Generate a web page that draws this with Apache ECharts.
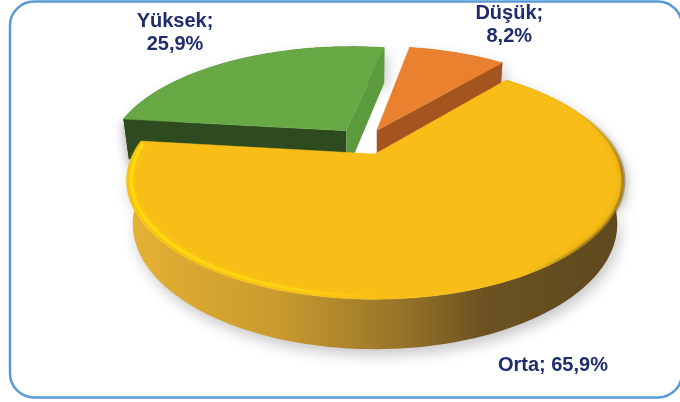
<!DOCTYPE html>
<html>
<head>
<meta charset="utf-8">
<script src="https://cdn.jsdelivr.net/npm/echarts@6/dist/echarts.min.js"></script>
<style>
  html, body { margin: 0; padding: 0; background: #fff; }
  #chart { width: 680px; height: 402px; }
</style>
</head>
<body>
<div id="chart"></div>
<script>
// risk düzeyi dağılımı (%)
const categories = ['Düşük', 'Orta', 'Yüksek'];
const values = [8.2, 65.9, 25.9];

// görünüm ayarları (Excel 3B pasta gibi)
const topColors = ['#E9812E', '#F8BD16', '#69A945'];
const startWallColors = ['#B8601F', '#7A5C20', '#2E4A1F'];
const endWallColors = ['#A3541F', '#7A5C20', '#5C9A3E'];
const explode = [{ d: 0.22, dir: 2 }, { d: 0, dir: 0 }, { d: 0.25, dir: 330 }];
const labelOffsets = [[52, -28], [64, 79], [-58, -28]];
const labelWrap = [true, false, true];

const view = { cx: 375, cy: 154, f: 951, D: 3.93, h: 0.2025, tilt: 27.7 * Math.PI / 180, start: 10 };
const rad = a => a * Math.PI / 180;

function project(x, y, z) {
  const s = Math.sin(view.tilt), c = Math.cos(view.tilt);
  const depth = view.D + y * c - z * s;
  const v = y * s + z * c;
  return [view.cx + view.f * x / depth, view.cy - view.f * v / depth];
}

const total = values.reduce((a, b) => a + b, 0);
let acc = view.start;
const slices = values.map((v, i) => {
  const a0 = acc;
  const a1 = acc + v / total * 360;
  acc = a1;
  const ox = explode[i].d * Math.sin(rad(explode[i].dir));
  const oy = explode[i].d * Math.cos(rad(explode[i].dir));
  const mid = (a0 + a1) / 2;
  return { a0, a1, ox, oy, mid, depth: oy + 0.5 * Math.cos(rad(mid)) };
});
// uzaktan yakına çizim sırası
const order = slices.map((s, i) => i).sort((a, b) => slices[b].depth - slices[a].depth);

const camPos = [0, -view.D * Math.cos(view.tilt), view.D * Math.sin(view.tilt)];

function wallVisible(s, phi, sign) {
  const t = [Math.cos(rad(phi)) * sign, -Math.sin(rad(phi)) * sign, 0];
  const p = [s.ox, s.oy, 0];
  return t[0] * (camPos[0] - p[0]) + t[1] * (camPos[1] - p[1]) + t[2] * (camPos[2] - p[2]) > 0;
}

function fmt(v) {
  return v.toFixed(1).replace('.', ',') + '%';
}

function renderItem(params, api) {
  const i = params.dataIndex;
  const s = slices[i];
  const h = view.h;
  const rim = (a, z, r) => project(s.ox + (r || 1) * Math.sin(rad(a)), s.oy + (r || 1) * Math.cos(rad(a)), z);
  const ctr = z => project(s.ox, s.oy, z);
  const n = Math.max(4, Math.ceil((s.a1 - s.a0) / 1.5));
  const topArc = [], botArc = [];
  for (let k = 0; k <= n; k++) {
    const a = s.a0 + (s.a1 - s.a0) * k / n;
    topArc.push(rim(a, 0));
    botArc.push(rim(a, -h));
  }
  const base = order.indexOf(i) * 10;
  const children = [];

  const wallFill = i === 1 ? {
    type: 'linear', x: 0, y: 0, x2: 1, y2: 0,
    colorStops: [
      { offset: 0, color: '#E4B233' },
      { offset: 0.3, color: '#C99A2E' },
      { offset: 0.55, color: '#98742A' },
      { offset: 0.72, color: '#6B5221' },
      { offset: 1, color: '#5E481E' }
    ]
  } : startWallColors[i];

  children.push({
    type: 'polygon',
    z2: base + 1,
    shape: { points: topArc.concat(botArc.slice().reverse()) },
    style: {
      fill: wallFill,
      shadowBlur: 14,
      shadowColor: 'rgba(0,0,0,0.22)',
      shadowOffsetX: 3,
      shadowOffsetY: 6
    }
  });

  if (wallVisible(s, s.a0, -1)) {
    children.push({
      type: 'polygon',
      z2: base + 2,
      shape: { points: [ctr(0), rim(s.a0, 0), rim(s.a0, -h), ctr(-h)] },
      style: { fill: startWallColors[i], shadowBlur: 10, shadowColor: 'rgba(0,0,0,0.18)', shadowOffsetX: -2, shadowOffsetY: 4 }
    });
  }
  if (wallVisible(s, s.a1, 1)) {
    children.push({
      type: 'polygon',
      z2: base + 2,
      shape: { points: [ctr(0), rim(s.a1, 0), rim(s.a1, -h), ctr(-h)] },
      style: { fill: endWallColors[i] }
    });
  }

  children.push({
    type: 'polygon',
    z2: base + 3,
    shape: { points: [ctr(0)].concat(topArc) },
    style: { fill: topColors[i], stroke: topColors[i], lineWidth: 0.5 }
  });

  if (i === 1) {
    // ön kenar parlaklığı
    const hl = [];
    for (let a = 178; a <= s.a1 - 1; a += 1.5) hl.push(rim(a, 0, 0.982));
    children.push({
      type: 'polyline',
      z2: base + 4,
      shape: { points: hl },
      style: {
        fill: null,
        lineWidth: 3,
        shadowBlur: 5,
        shadowColor: 'rgba(255,228,0,0.9)',
        stroke: {
          type: 'linear', x: 0, y: 0, x2: 1, y2: 0,
          colorStops: [
            { offset: 0, color: 'rgba(255,226,10,0.75)' },
            { offset: 0.6, color: 'rgba(255,226,20,0.5)' },
            { offset: 1, color: 'rgba(255,226,20,0)' }
          ]
        }
      }
    });
    // sağ kenar gölgesi
    const sh = [];
    for (let a = 68; a <= 150; a += 1.5) sh.push(rim(a, 0, 1));
    children.push({
      type: 'polyline',
      z2: base + 4,
      shape: { points: sh },
      style: {
        fill: null,
        lineWidth: 4,
        shadowBlur: 6,
        shadowColor: 'rgba(80,60,15,0.6)',
        stroke: {
          type: 'linear', x: 0, y: 0, x2: 0, y2: 1,
          colorStops: [
            { offset: 0, color: 'rgba(110,85,25,0)' },
            { offset: 0.35, color: 'rgba(110,85,25,0.45)' },
            { offset: 0.8, color: 'rgba(110,85,25,0.45)' },
            { offset: 1, color: 'rgba(110,85,25,0)' }
          ]
        }
      }
    });
  }

  const anchor = rim(s.mid, 0);
  const text = categories[i] + ';' + (labelWrap[i] ? '\n' : ' ') + fmt(api.value(0));
  children.push({
    type: 'text',
    z2: 100,
    x: anchor[0] + labelOffsets[i][0],
    y: anchor[1] + labelOffsets[i][1],
    style: {
      text: text,
      fill: '#1F2C6E',
      fontSize: 20,
      fontWeight: 'bold',
      fontFamily: '"Liberation Sans", Arial, sans-serif',
      lineHeight: 23,
      align: 'center',
      verticalAlign: 'middle'
    }
  });

  return { type: 'group', children };
}

const chart = echarts.init(document.getElementById('chart'), null, { renderer: 'canvas' });
chart.setOption({
  backgroundColor: '#fff',
  animation: false,
  graphic: [{
    type: 'rect',
    z: -1,
    shape: { x: 10, y: 1.5, width: 672, height: 396, r: 24 },
    style: { fill: '#fff', stroke: '#5B9BD5', lineWidth: 2.5 },
    silent: true
  }],
  series: [{
    type: 'custom',
    coordinateSystem: 'none',
    renderItem: renderItem,
    data: values.map(v => [v])
  }]
});
</script>
</body>
</html>
